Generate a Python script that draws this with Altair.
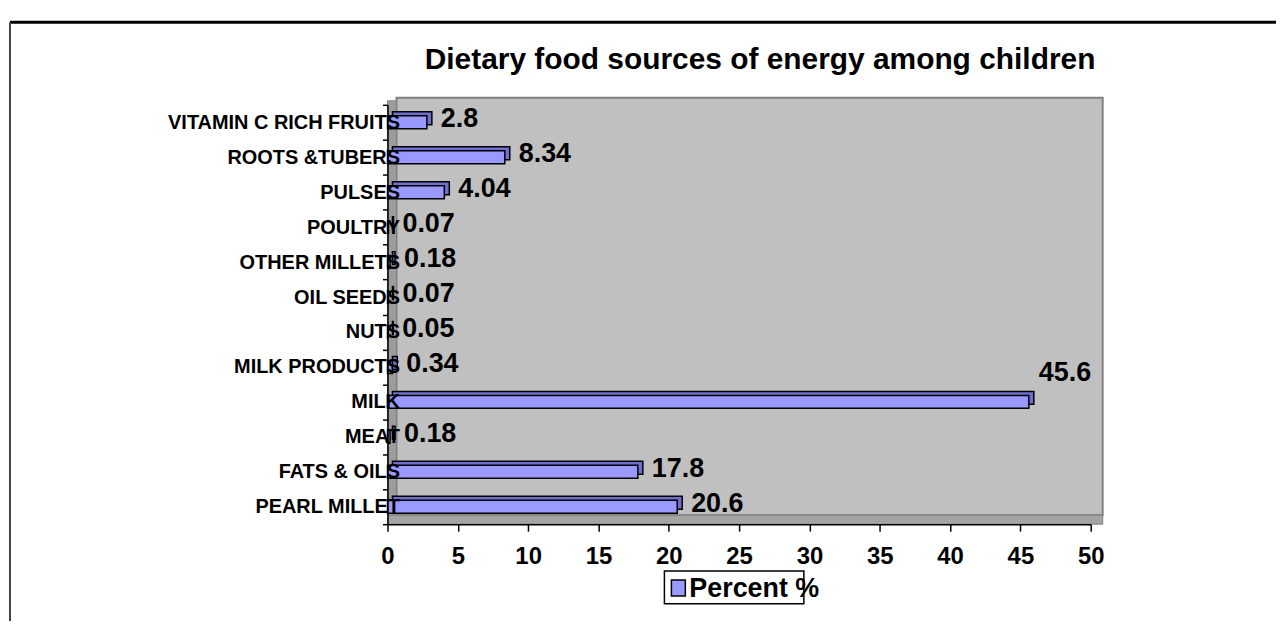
import altair as alt
import pandas as pd

# ---- data ----
CATEGORIES = [
    "VITAMIN C RICH FRUITS", "ROOTS &TUBERS", "PULSES", "POULTRY",
    "OTHER MILLETS", "OIL SEEDS", "NUTS", "MILK PRODUCTS", "MILK",
    "MEAT", "FATS & OILS", "PEARL MILLET",
]
VALUES = [2.8, 8.34, 4.04, 0.07, 0.18, 0.07, 0.05, 0.34, 45.6, 0.18, 17.8, 20.6]
X_TICKS = [0, 5, 10, 15, 20, 25, 30, 35, 40, 45, 50]
SERIES = "Percent %"
TITLE = "Dietary food sources of energy among children"

df = pd.DataFrame({"category": CATEGORIES, "value": VALUES})
one = pd.DataFrame({"series": [SERIES]})

FONT = "Liberation Sans"
W, H = 706, 421
BAR = "#9999FF"

x_enc = alt.X(
    "value:Q",
    scale=alt.Scale(domain=[0, 50], nice=False, zero=True),
    axis=alt.Axis(
        values=X_TICKS, title=None, grid=False, labelFont=FONT, labelFontSize=24,
        labelFontWeight="bold", labelColor="black", tickSize=7, tickColor="black",
        tickWidth=1.5, domainColor="black", domainWidth=1.5, labelPadding=13,
        labelFlush=False, labelOverlap=False, zindex=1,
    ),
)
y_enc = alt.Y(
    "category:N",
    sort=CATEGORIES,
    scale=alt.Scale(paddingInner=0, paddingOuter=0),
    axis=alt.Axis(
        title=None, labelFont=FONT, labelFontSize=20, labelFontWeight="bold",
        labelColor="black", labelPadding=-17, labelLimit=0, tickSize=5,
        tickColor="black", tickWidth=1.5, tickBand="extent", domainColor="black",
        domainWidth=1.5, zindex=2,
    ),
)

# ---- decorative frame and 3D walls ----
frame_top = alt.Chart(one).mark_rule(color="black", strokeWidth=3).encode(
    x=alt.value(-379), x2=alt.value(900), y=alt.value(-83)
)
frame_left = alt.Chart(one).mark_rule(color="#444444", strokeWidth=2).encode(
    x=alt.value(-379), y=alt.value(-83), y2=alt.value(560)
)
back_wall = alt.Chart(one).mark_rect(fill="#C0C0C0", stroke="#808080", strokeWidth=2).encode(
    x=alt.value(9), x2=alt.value(718), y=alt.value(-7), y2=alt.value(412)
)
side_wall = alt.Chart(one).mark_rect(fill="#9C9C9C", stroke="#808080", strokeWidth=1).encode(
    x=alt.value(0), x2=alt.value(9), y=alt.value(-4), y2=alt.value(421)
)
floor = alt.Chart(one).mark_rect(fill="#A4A4A4", stroke="#808080", strokeWidth=1).encode(
    x=alt.value(0), x2=alt.value(718), y=alt.value(412), y2=alt.value(421)
)

# ---- bars (with a shifted darker copy for the 3D faces) ----
bars_back = alt.Chart(df).mark_bar(
    size=13, fill="#6F6FD0", stroke="black", strokeWidth=1.5, xOffset=5, yOffset=-4
).encode(x=x_enc, y=y_enc)
bars = alt.Chart(df).mark_bar(
    size=13, fill=BAR, stroke="black", strokeWidth=1.5
).encode(x=x_enc, y=y_enc)

labels = alt.Chart(df).transform_filter("datum.value < 40").mark_text(
    align="left", baseline="middle", dx=14, dy=-3, font=FONT, fontSize=27,
    fontWeight="bold", color="black"
).encode(x=x_enc, y=y_enc, text=alt.Text("value:Q", format="~g"))
labels_top = alt.Chart(df).transform_filter("datum.value >= 40").mark_text(
    align="left", baseline="middle", dx=10, dy=-29, font=FONT, fontSize=27,
    fontWeight="bold", color="black"
).encode(x=x_enc, y=y_enc, text=alt.Text("value:Q", format="~g"))

# ---- title ----
title = alt.Chart(one).mark_text(
    align="center", baseline="alphabetic", font=FONT, fontSize=30,
    fontWeight="bold", color="black"
).encode(x=alt.value(374), y=alt.value(-36), text=alt.value(TITLE))

# ---- legend box ----
leg_box = alt.Chart(one).mark_rect(fill="white", stroke="black", strokeWidth=1.5).encode(
    x=alt.value(278), x2=alt.value(418), y=alt.value(468), y2=alt.value(501)
)
leg_sw = alt.Chart(one).mark_rect(fill=BAR, stroke="black", strokeWidth=1.5).encode(
    x=alt.value(285), x2=alt.value(299), y=alt.value(477), y2=alt.value(493)
)
leg_txt = alt.Chart(one).mark_text(
    align="left", baseline="middle", font=FONT, fontSize=27, fontWeight="bold",
    color="black"
).encode(x=alt.value(303), y=alt.value(486), text="series:N")

chart = alt.layer(
    frame_top, frame_left, back_wall, side_wall, floor,
    bars_back, bars, labels, labels_top, title, leg_box, leg_sw, leg_txt,
).properties(
    width=W, height=H,
    autosize=alt.AutoSizeParams(type="none"),
    padding={"left": 381, "top": 96, "right": 186, "bottom": 96},
).configure_view(stroke=None).configure(background="white")

chart.save("out.html", embed_options={"renderer": "svg", "actions": False})
